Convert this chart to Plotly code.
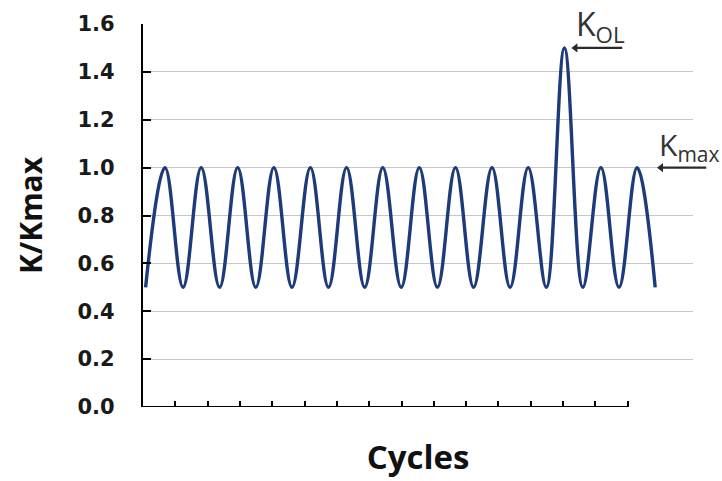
import plotly.graph_objects as go

# ---- data ----
trough_times = [0.08, 1.24, 2.37, 3.49, 4.61, 5.74, 6.86, 7.99, 9.11, 10.23, 11.36, 12.48, 13.61, 14.73, 15.85]
trough_values = [0.5] * 15
peak_times = [0.68, 1.80, 2.93, 4.05, 5.18, 6.30, 7.42, 8.55, 9.67, 10.80, 11.92, 13.04, 14.17, 15.29]
peak_values = [1.0, 1.0, 1.0, 1.0, 1.0, 1.0, 1.0, 1.0, 1.0, 1.0, 1.0, 1.5, 1.0, 1.0]
x_ticks = list(range(1, 16))
y_ticks = [0.0, 0.2, 0.4, 0.6, 0.8, 1.0, 1.2, 1.4, 1.6]
y_tick_labels = ["0.0", "0.2", "0.4", "0.6", "0.8", "1.0", "1.2", "1.4", "1.6"]
x_title = "Cycles"
y_title = "K/Kmax"
overload_label = "K<sub>OL</sub>"
kmax_label = "K<sub>max</sub>"

# interleave extremes
xs, ys = [], []
for i in range(len(trough_times)):
    xs.append(trough_times[i]); ys.append(trough_values[i])
    if i < len(peak_times):
        xs.append(peak_times[i]); ys.append(peak_values[i])

ol_idx = peak_values.index(max(peak_values))
ol_t, ol_v = peak_times[ol_idx], peak_values[ol_idx]
kmax_v = peak_values[0]
last_t = trough_times[-1]
X_MAX = 17.02

NAVY = "#1d3a7a"
ARROW = "#2a2a2a"
fig = go.Figure()
fig.add_trace(go.Scatter(x=xs, y=ys, mode="lines",
                         line=dict(color=NAVY, width=3.4, shape="spline", smoothing=1.1),
                         hoverinfo="skip", showlegend=False))

# x axis line only across the tick span
fig.add_shape(type="line", xref="x", yref="y", x0=0, x1=max(x_ticks), y0=0, y1=0,
              line=dict(color="black", width=2.2), layer="above")

# arrow shafts (paper x so they may run past the plot edge)
ol_head, ol_tail = ol_t + 0.22, ol_t + 1.79
km_head, km_tail = last_t + 0.06, last_t + 1.58
fig.add_shape(type="line", xref="paper", yref="y", x0=(ol_head + 0.15) / X_MAX, x1=ol_tail / X_MAX,
              y0=ol_v, y1=ol_v, line=dict(color=ARROW, width=2.2))
fig.add_shape(type="line", xref="paper", yref="y", x0=(km_head + 0.15) / X_MAX, x1=km_tail / X_MAX,
              y0=kmax_v, y1=kmax_v, line=dict(color=ARROW, width=2.2))
# arrow heads
fig.add_trace(go.Scatter(x=[ol_head + 0.12, km_head + 0.12], y=[ol_v, kmax_v], mode="markers",
                         marker=dict(symbol="triangle-left", size=8, color=ARROW),
                         hoverinfo="skip", showlegend=False, cliponaxis=False))

fig.add_annotation(x=ol_t + 0.30, y=1.59, xref="x", yref="y", text=overload_label,
                   showarrow=False, xanchor="left", yanchor="middle",
                   font=dict(family="Open Sans", size=32, color="#333333"))
fig.add_annotation(x=last_t + 0.07, y=1.09, xref="x", yref="y", text=kmax_label,
                   showarrow=False, xanchor="left", yanchor="middle",
                   font=dict(family="Open Sans", size=30, color="#333333"))

fig.update_layout(
    width=722, height=481,
    margin=dict(l=143, r=29, t=22, b=74),
    paper_bgcolor="white", plot_bgcolor="white",
    showlegend=False,
    xaxis=dict(range=[0, X_MAX], tickvals=x_ticks, showticklabels=False,
               ticks="inside", ticklen=6, tickwidth=2, tickcolor="black",
               showgrid=False, zeroline=False, showline=False,
               title=dict(text=x_title, standoff=38,
                          font=dict(family="Open Sans", size=33, color="#111111", weight="bold"))),
    yaxis=dict(range=[0, 1.6], tickvals=y_ticks, ticktext=y_tick_labels,
               ticks="inside", ticklen=8, tickwidth=2, tickcolor="black",
               showgrid=True, gridcolor="#c8c8c8", gridwidth=1,
               zeroline=False, showline=True, linecolor="black", linewidth=2.2,
               ticklabelstandoff=22,
               tickfont=dict(family="DejaVu Sans", size=21, color="#1a1a1a", weight="bold"),
               title=dict(text=y_title, standoff=26,
                          font=dict(family="Open Sans", size=30, color="#111111", weight="bold"))),
)

fig.write_html("out.html")
